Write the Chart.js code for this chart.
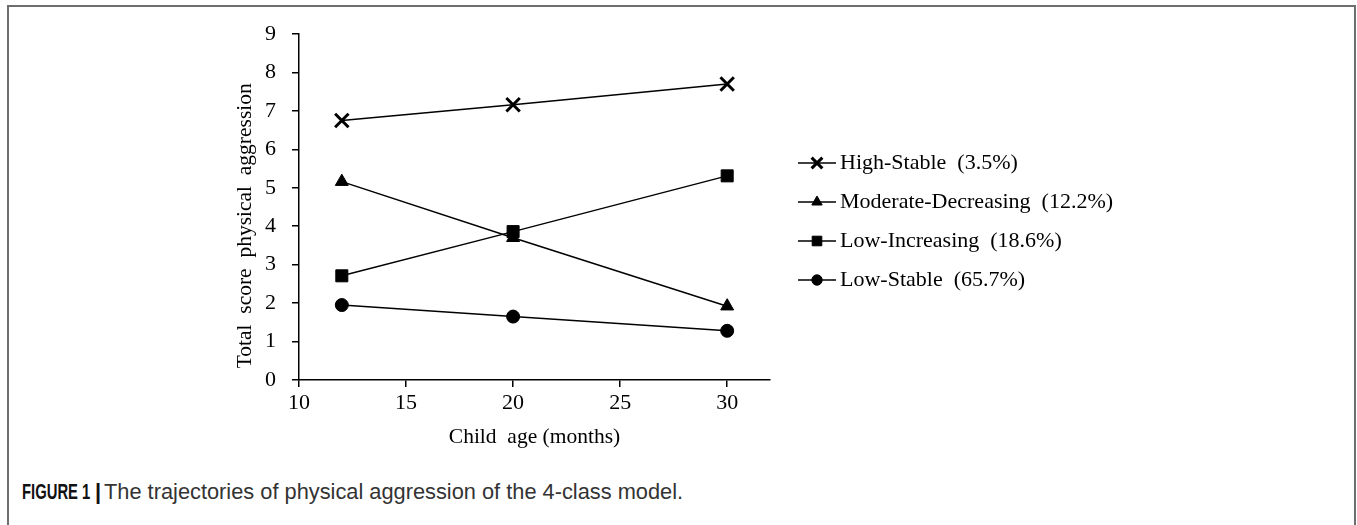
<!DOCTYPE html>
<html>
<head>
<meta charset="utf-8">
<script src="https://cdn.jsdelivr.net/npm/chart.js@4.4.1/dist/chart.umd.min.js"></script>
<style>
  html, body { margin: 0; padding: 0; background: #fff; overflow: hidden; }
  body { width: 1357px; height: 525px; position: relative; }
  .frame { position: absolute; left: 7px; top: 5px; width: 1345px; height: 600px; border: 2px solid #6e6e6e; }
  #chart { position: absolute; left: 0; top: 0; }
  .caption {
    position: absolute; top: 479px; white-space: nowrap;
    font-family: "Liberation Sans", Arial, sans-serif; font-size: 21.8px; color: #333;
  }
  .caption.tag { left: 22px; font-weight: bold; color: #111; transform: scaleX(0.68); transform-origin: left center; }
  .caption.bar { left: 95px; font-weight: bold; color: #111; }
  .caption.text { left: 104px; }
</style>
</head>
<body>
<div class="frame"></div>
<canvas id="chart" width="1357" height="470"></canvas>
<div class="caption tag">FIGURE 1</div>
<div class="caption bar">|</div>
<div class="caption text">The trajectories of physical aggression of the 4-class model.</div>

<script>
// values
const ages = [12, 20, 30];
const groupLabels = [
  'High-Stable  (3.5%)',
  'Moderate-Decreasing  (12.2%)',
  'Low-Increasing  (18.6%)',
  'Low-Stable  (65.7%)',
];
const highStable = [6.75, 7.16, 7.70];
const moderateDecreasing = [5.16, 3.70, 1.92];
const lowIncreasing = [2.71, 3.86, 5.31];
const lowStable = [1.95, 1.65, 1.28];
const xTicks = [10, 15, 20, 25, 30];
const yTicks = [0, 1, 2, 3, 4, 5, 6, 7, 8, 9];

const serif = '"Liberation Serif", "Times New Roman", serif';

const toPoints = values => values.map((v, i) => ({ x: ages[i], y: v }));

const makeSeries = (label, values, pointStyle, radius, pointBorderWidth) => ({
  label,
  data: toPoints(values),
  borderColor: '#000',
  backgroundColor: '#000',
  borderWidth: 1.5,
  pointStyle,
  pointRadius: radius,
  pointBorderWidth,
  pointBackgroundColor: '#000',
  pointBorderColor: '#000',
  tension: 0,
});

// legend drawn as line + marker + text, like the original figure
const sideLegend = {
  id: 'sideLegend',
  afterDraw(chart, args, opts) {
    const ctx = chart.ctx;
    ctx.save();
    chart.data.datasets.forEach((ds, i) => {
      const y = opts.top + i * opts.rowGap;
      ctx.strokeStyle = '#000';
      ctx.fillStyle = '#000';
      ctx.lineWidth = 1.5;
      ctx.beginPath();
      ctx.moveTo(opts.left, y);
      ctx.lineTo(opts.left + opts.lineLength, y);
      ctx.stroke();

      ctx.lineWidth = ds.pointBorderWidth;
      Chart.helpers.drawPoint(ctx, {
        pointStyle: ds.pointStyle,
        radius: ds.pointRadius * 0.8,
        borderWidth: ds.pointBorderWidth,
        rotation: 0,
      }, opts.left + opts.lineLength / 2, y);

      ctx.font = opts.font;
      ctx.textAlign = 'left';
      ctx.textBaseline = 'middle';
      ctx.fillText(ds.label, opts.left + opts.lineLength + opts.textGap, y);
    });
    ctx.restore();
  },
};

const axisGrid = { display: true, drawOnChartArea: false, drawTicks: true, tickLength: 7, color: '#000', lineWidth: 1.5 };
const axisBorder = { display: true, color: '#000', width: 1.5 };

new Chart(document.getElementById('chart'), {
  type: 'line',
  data: {
    datasets: [
      makeSeries(groupLabels[0], highStable, 'crossRot', 9.5, 3),
      makeSeries(groupLabels[1], moderateDecreasing, 'triangle', 7.5, 1),
      makeSeries(groupLabels[2], lowIncreasing, 'rect', 8.5, 1),
      makeSeries(groupLabels[3], lowStable, 'circle', 6.5, 1),
    ],
  },
  plugins: [sideLegend],
  options: {
    responsive: false,
    animation: false,
    layout: { padding: { left: 228, top: 34, right: 587, bottom: 0 } },
    plugins: {
      legend: { display: false },
      tooltip: { enabled: false },
      sideLegend: { left: 798, lineLength: 38, textGap: 4, top: 163, rowGap: 39, font: '22px ' + serif },
    },
    scales: {
      x: {
        type: 'linear',
        min: 10,
        max: 32,
        afterBuildTicks: axis => { axis.ticks = xTicks.map(v => ({ value: v })); },
        afterFit: axis => { axis.height = 90; },
        grid: axisGrid,
        border: axisBorder,
        ticks: { color: '#000', font: { family: serif, size: 22 }, padding: 3, maxRotation: 0 },
        title: {
          display: true,
          text: 'Child  age (months)',
          color: '#000',
          font: { family: serif, size: 21.5 },
          padding: { top: 4, bottom: 20 },
        },
      },
      y: {
        min: 0,
        max: 9,
        afterBuildTicks: axis => { axis.ticks = yTicks.map(v => ({ value: v })); },
        afterFit: axis => { axis.width = 71; },
        grid: axisGrid,
        border: axisBorder,
        ticks: { color: '#000', font: { family: serif, size: 22 }, padding: 16 },
        title: {
          display: true,
          // trailing spaces nudge the centred title down, as in the original
          text: 'Total  score  physical  aggression\u00a0\u00a0\u00a0\u00a0\u00a0\u00a0\u00a0',
          color: '#000',
          font: { family: serif, size: 21.5 },
          padding: { top: 4, bottom: 4 },
        },
      },
    },
  },
});
</script>
</body>
</html>
